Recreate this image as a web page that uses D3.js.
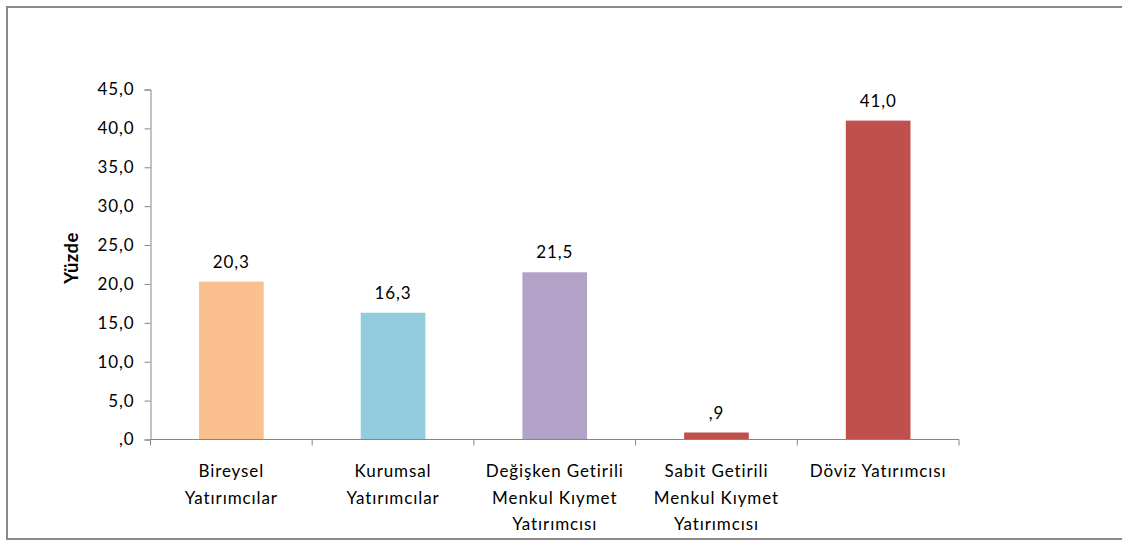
<!DOCTYPE html>
<html>
<head>
<meta charset="utf-8">
<script src="https://cdn.jsdelivr.net/npm/d3@7"></script>
<style>
  html, body { margin: 0; padding: 0; background: #fff; }
  svg { display: block; }
  text { font-family: Lato, "Open Sans", sans-serif; fill: #000; letter-spacing: 0.9px; }
</style>
</head>
<body>
<svg id="chart" width="1122" height="541"></svg>
<script>
// Investor groups (one line per array entry) and their shares in percent
const categories = [
  ["Bireysel", "Yatırımcılar"],
  ["Kurumsal", "Yatırımcılar"],
  ["Değişken Getirili", "Menkul Kıymet", "Yatırımcısı"],
  ["Sabit Getirili", "Menkul Kıymet", "Yatırımcısı"],
  ["Döviz Yatırımcısı"]
];
const values = [20.3, 16.3, 21.5, 0.9, 41.0];
const barColors = ["#FAC090", "#93CDDD", "#B3A2C7", "#C0504D", "#C0504D"];
const yTicks = [0, 5, 10, 15, 20, 25, 30, 35, 40, 45];
const yTitle = "Yüzde";

// Turkish decimal comma, leading zero dropped (",9", ",0")
const fmt = v => d3.format(".1f")(v).replace(".", ",").replace(/^0,/, ",");

const svg = d3.select("#chart");

// outer frame
svg.append("path")
  .attr("d", "M1122,7 H7 V539 H1122")
  .attr("fill", "none")
  .attr("stroke", "#8a8a8a")
  .attr("stroke-width", 2);

const plot = { left: 150.5, right: 959, top: 89.5, bottom: 439.5 };

const x = d3.scaleBand()
  .domain(d3.range(categories.length))
  .range([plot.left, plot.right])
  .paddingInner(0.6)
  .paddingOuter(0.3);

const y = d3.scaleLinear().domain([0, 45]).range([plot.bottom, plot.top]);

// bars
svg.append("g").selectAll("rect")
  .data(values)
  .join("rect")
  .attr("x", (d, i) => x(i))
  .attr("width", x.bandwidth())
  .attr("y", d => y(d))
  .attr("height", d => y(0) - y(d))
  .attr("fill", (d, i) => barColors[i]);

// value labels
svg.append("g").selectAll("text")
  .data(values)
  .join("text")
  .attr("x", (d, i) => x(i) + x.bandwidth() / 2)
  .attr("y", d => y(d) - 14)
  .attr("text-anchor", "middle")
  .style("font-size", "17px")
  .text(d => fmt(d));

// y axis
const yAxis = svg.append("g")
  .attr("transform", `translate(${plot.left},0)`)
  .call(d3.axisLeft(y).tickValues(yTicks).tickFormat(fmt).tickSize(6).tickPadding(10));
yAxis.selectAll("path, line").attr("stroke", "#868686");
yAxis.selectAll("text").style("font-size", "17px").attr("fill", "#000")
  .style("font-family", "Lato, sans-serif");

// x axis: ticks on category boundaries
const xAxisG = svg.append("g");
xAxisG.append("line")
  .attr("x1", plot.left).attr("x2", plot.right)
  .attr("y1", plot.bottom).attr("y2", plot.bottom)
  .attr("stroke", "#868686");
const bounds = d3.range(categories.length + 1).map(i => plot.left + i * (plot.right - plot.left) / categories.length);
xAxisG.selectAll("line.tick")
  .data(bounds)
  .join("line")
  .attr("class", "tick")
  .attr("x1", d => d).attr("x2", d => d)
  .attr("y1", plot.bottom).attr("y2", plot.bottom + 6)
  .attr("stroke", "#868686");

// category labels
const catG = svg.append("g").selectAll("text")
  .data(categories)
  .join("text")
  .attr("text-anchor", "middle")
  .style("font-size", "17px");
catG.each(function(lines, i) {
  const t = d3.select(this);
  lines.forEach((ln, j) => {
    t.append("tspan")
      .attr("x", x(i) + x.bandwidth() / 2)
      .attr("y", 477 + j * 26.5)
      .text(ln);
  });
});

// y axis title
svg.append("text")
  .attr("transform", "translate(78,258) rotate(-90)")
  .attr("text-anchor", "middle")
  .style("font-size", "18.5px")
  .style("font-weight", "bold")
  .style("letter-spacing", "0.4px")
  .text(yTitle);
</script>
</body>
</html>
